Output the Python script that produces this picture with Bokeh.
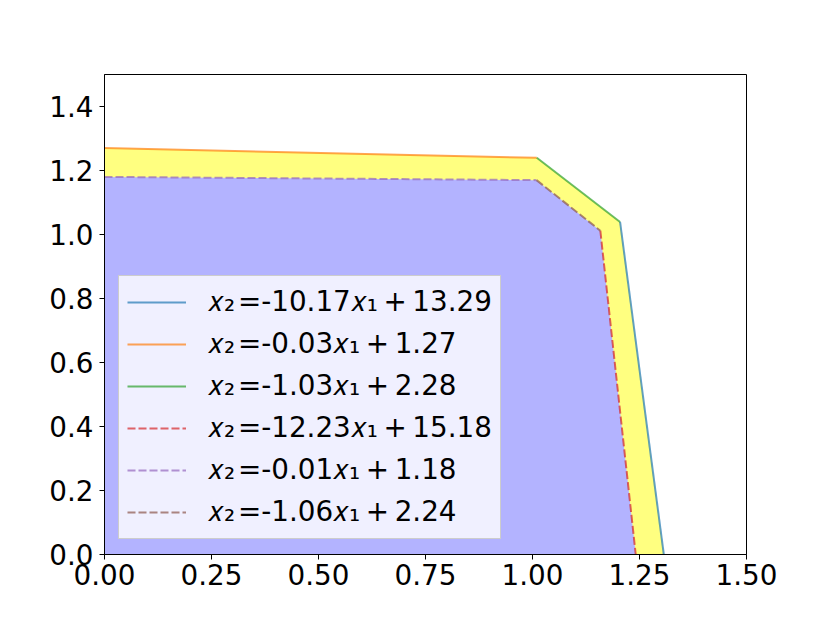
from bokeh.plotting import figure
from bokeh.models import Range1d, FixedTicker, NumeralTickFormatter, Legend, LegendItem
from bokeh.embed import file_html
from bokeh.resources import INLINE

# Equations shown in the legend
labels = [
    "𝑥₂\u200a=-10.17𝑥₁\u2009+\u200913.29",
    "𝑥₂\u200a=-0.03𝑥₁\u2009+\u20091.27",
    "𝑥₂\u200a=-1.03𝑥₁\u2009+\u20092.28",
    "𝑥₂\u200a=-12.23𝑥₁\u2009+\u200915.18",
    "𝑥₂\u200a=-0.01𝑥₁\u2009+\u20091.18",
    "𝑥₂\u200a=-1.06𝑥₁\u2009+\u20092.24",
]
line_colors = ["#1f77b4", "#ff7f0e", "#2ca02c", "#d62728", "#9467bd", "#8c564b"]
line_dashes = ["solid", "solid", "solid", "8 3", "8 3", "8 3"]

# Outer boundary vertices (orange -> green -> blue)
outer_x = [0.0, 1.010, 1.2046, 1.3068]
outer_y = [1.270, 1.2397, 1.0393, 0.0]
# Inner boundary vertices (purple -> brown -> red)
inner_x = [0.0, 1.0095, 1.1585, 1.2412]
inner_y = [1.180, 1.1699, 1.0120, 0.0]

# Segment of each line: (index pairs into the boundary arrays)
segments = [
    ("outer", 2, 3),  # blue
    ("outer", 0, 1),  # orange
    ("outer", 1, 2),  # green
    ("inner", 2, 3),  # red
    ("inner", 0, 1),  # purple
    ("inner", 1, 2),  # brown
]

x_ticks = [0.0, 0.25, 0.5, 0.75, 1.0, 1.25, 1.5]
y_ticks = [0.0, 0.2, 0.4, 0.6, 0.8, 1.0, 1.2, 1.4]

p = figure(
    frame_width=642, frame_height=480,
    min_border_left=104, min_border_right=84, min_border_top=74, min_border_bottom=69,
    x_range=Range1d(0, 1.5), y_range=Range1d(0, 1.5),
    output_backend="svg", toolbar_location=None,
    background_fill_color="white", border_fill_color="white",
)
p.grid.visible = False
p.outline_line_color = "black"
p.outline_line_width = 1

# Fills
p.varea(x=outer_x, y1=[0] * len(outer_x), y2=outer_y, fill_color="#ffff80", fill_alpha=1.0)
p.varea(x=inner_x, y1=[0] * len(inner_x), y2=inner_y, fill_color="#b3b3ff", fill_alpha=1.0)

items = []
for lab, col, dash, seg in zip(labels, line_colors, line_dashes, segments):
    which, i, j = seg
    xs = outer_x if which == "outer" else inner_x
    ys = outer_y if which == "outer" else inner_y
    r = p.line(x=[xs[i], xs[j]], y=[ys[i], ys[j]], line_color=col, line_alpha=0.7,
               line_width=2, line_dash=dash)
    items.append(LegendItem(label=lab, renderers=[r]))

legend = Legend(
    items=items, location=(14, 15),
    label_text_font="DejaVu Sans", label_text_font_size="27.8px",
    label_text_color="black",
    label_standoff=22, glyph_width=59, glyph_height=36, label_height=36,
    spacing=6, padding=8, margin=0,
    background_fill_color="white", background_fill_alpha=0.8,
    border_line_color="#cccccc", border_line_alpha=1.0, border_line_width=1,
)
p.add_layout(legend, "center")

for ax in (p.xaxis[0], p.yaxis[0]):
    ax.major_label_text_font = "DejaVu Sans"
    ax.major_label_text_font_size = "27.8px"
    ax.major_label_text_color = "black"
    ax.axis_line_color = "black"
    ax.major_tick_line_color = "black"
    ax.major_tick_out = 5
    ax.major_tick_in = 0
    ax.minor_tick_line_color = None

p.xaxis[0].ticker = FixedTicker(ticks=x_ticks)
p.xaxis[0].formatter = NumeralTickFormatter(format="0.00")
p.xaxis[0].major_label_standoff = 4
p.yaxis[0].ticker = FixedTicker(ticks=y_ticks)
p.yaxis[0].formatter = NumeralTickFormatter(format="0.0")
p.yaxis[0].major_label_standoff = 6

open("out.html", "w").write(file_html(p, INLINE))
